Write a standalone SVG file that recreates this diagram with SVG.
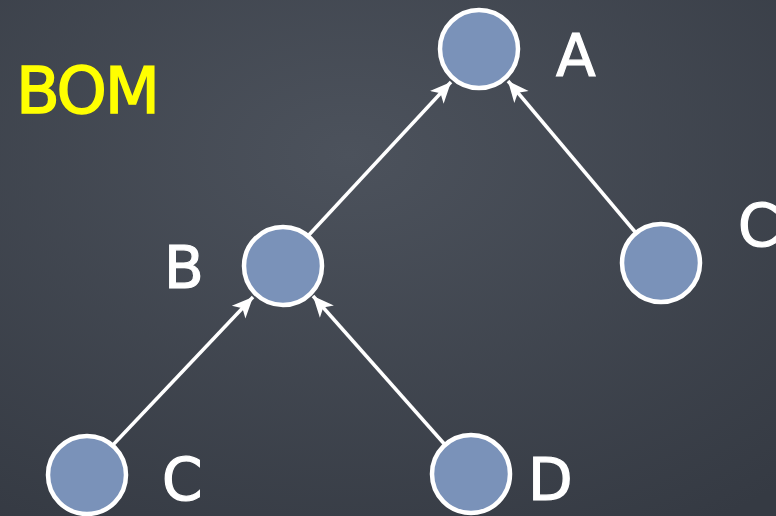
<svg xmlns="http://www.w3.org/2000/svg" width="776" height="516" viewBox="0 0 776 516">
<defs>
<radialGradient id="bg" cx="0.45" cy="0.3" r="0.85">
<stop offset="0" stop-color="#4c525c"/>
<stop offset="1" stop-color="#353a43"/>
</radialGradient>
<marker id="arr" viewBox="0 0 20 20" refX="19" refY="10" markerWidth="22" markerHeight="22" markerUnits="userSpaceOnUse" orient="auto">
<path d="M19,10 L0,1.5 L5,10 L0,18.5 Z" fill="#ffffff"/>
</marker>
<style>
.node{fill:#7a92b9;stroke:#ffffff;stroke-width:4.5}
.lbl{font-family:"DejaVu Sans",sans-serif;font-size:58px;fill:#ffffff;stroke:#ffffff;stroke-width:1.2}
.edge{stroke:#ffffff;stroke-width:3.5;fill:none;marker-end:url(#arr)}
</style>
</defs>
<rect width="776" height="516" fill="url(#bg)"/>
<text x="16" y="113" font-family="DejaVu Sans,sans-serif" font-size="64" fill="#ffff00" stroke="#ffff00" stroke-width="1.5" textLength="144">BOM</text>
<g id="connectors">
<line class="edge" x1="110" y1="448" x2="253" y2="297"/>
<line class="edge" x1="307" y1="237" x2="451" y2="82"/>
<line class="edge" x1="636" y1="233" x2="508" y2="81"/>
<line class="edge" x1="447" y1="447" x2="313" y2="296"/>
</g>
<g id="nodeA"><circle class="node" cx="479" cy="49" r="39"/><text class="lbl" x="556" y="76">A</text></g>
<g id="nodeB"><circle class="node" cx="283" cy="266" r="39"/><text class="lbl" x="164" y="288">B</text></g>
<g id="nodeC1"><circle class="node" cx="661" cy="263" r="39"/><text class="lbl" x="738" y="246">C</text></g>
<g id="nodeC2"><circle class="node" cx="87" cy="475" r="39"/><text class="lbl" x="162" y="500">C</text></g>
<g id="nodeD"><circle class="node" cx="471" cy="474" r="39"/><text class="lbl" x="528" y="500">D</text></g>
</svg>
